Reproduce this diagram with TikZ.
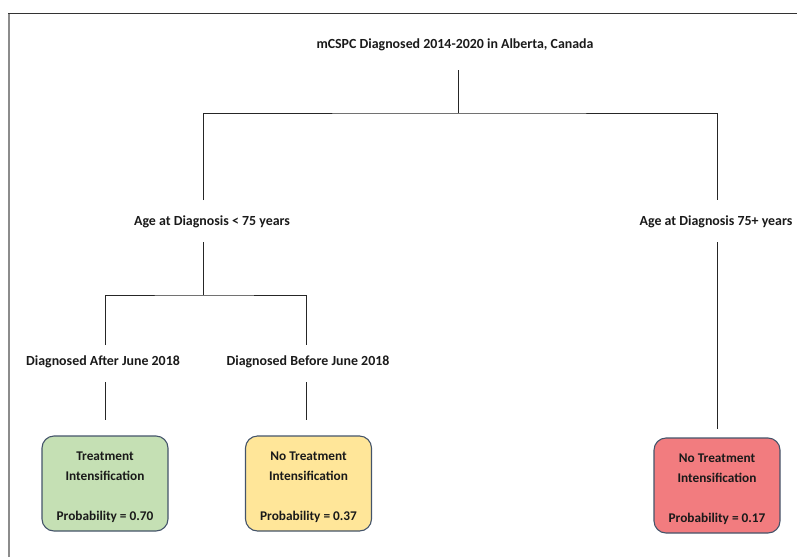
\documentclass[tikz,border=0pt]{standalone}
\usepackage{fontspec}
\setmainfont{Carlito}
\usetikzlibrary{calc}
\definecolor{boxgreen}{HTML}{C5E0B4}
\definecolor{boxyellow}{HTML}{FFE699}
\definecolor{boxred}{HTML}{F27C7F}
\definecolor{boxedge}{HTML}{44546A}
\definecolor{txt}{HTML}{1A1A1A}
\newcommand{\topstrut}{\rule{0pt}{16pt}}
\begin{document}
\begin{tikzpicture}[x=1pt,y=-1pt,
  lbl/.style={font=\bfseries\fontsize{13.9}{15}\selectfont, text=txt, inner sep=0pt},
  outcome/.style={draw=boxedge, line width=1.1pt, rounded corners=12pt,
    minimum width=126pt, minimum height=95pt, inner sep=0pt,
    align=center, text=txt, font=\bfseries\fontsize{13.3}{20}\selectfont},
  tree/.style={draw=black!85, line width=1pt}]
\path[use as bounding box] (0,0) rectangle (797,557);
% frame
\draw[black!45, line width=1.4pt] (9,557) -- (9,13.5);
\draw[black!80, line width=1.2pt] (8.3,13.5) -- (797,13.5);
% labels
\node[lbl] (title) at (455,45) {mCSPC Diagnosed 2014-2020 in Alberta, Canada};
\node[lbl] (ageL) at (212,222) {Age at Diagnosis < 75 years};
\node[lbl] (ageR) at (716,222) {Age at Diagnosis 75+ years};
\node[lbl] (dA) at (103,362) {Diagnosed After June 2018};
\node[lbl] (dB) at (308,362) {Diagnosed Before June 2018};
% outcomes
\node[outcome, fill=boxgreen] (boxG) at (105,483.5) {\topstrut Treatment\\Intensification\\[20pt]Probability = 0.70};
\node[outcome, fill=boxyellow] (boxY) at (308.5,483.5) {\topstrut No Treatment\\Intensification\\[20pt]Probability = 0.37};
\node[outcome, fill=boxred] (boxR) at (717,485.5) {\topstrut No Treatment\\Intensification\\[20pt]Probability = 0.17};
% tree
\coordinate (j1) at (458,113);
\coordinate (j2) at (203,295);
\draw[tree] ($(title.center)+(3,25)$) -- (j1);
\draw[tree] ($(ageL.center)+(-9,-22)$) |- (j1) -| ($(ageR.center)+(1,-22)$);
\draw[tree] ($(ageL.center)+(-9,20)$) -- (j2);
\draw[tree] ($(dA.center)+(2,-17)$) |- (j2) -| ($(dB.center)+(-2,-17)$);
\draw[tree] ($(dA.center)+(2,20)$) -- ($(boxG.north)+(0,-15)$);
\draw[tree] ($(dB.center)+(-2,20)$) -- ($(boxY.north)+(-2.5,-15)$);
\draw[tree] ($(ageR.center)+(1,20)$) -- ($(boxR.north)+(0,-8)$);
\end{tikzpicture}
\end{document}
